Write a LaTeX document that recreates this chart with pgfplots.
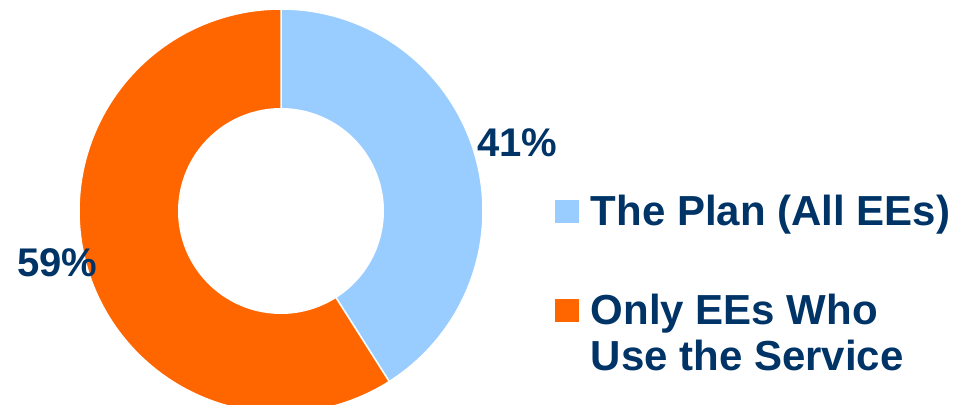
\documentclass[border=0pt]{standalone}
\usepackage{pgfplots}
\pgfplotsset{compat=1.18}
\usepackage{fontspec}
\setmainfont{Liberation Sans}
\definecolor{planblue}{HTML}{99CCFF}
\definecolor{useorange}{HTML}{FF6600}
\definecolor{navy}{HTML}{003366}
% data (percent)
\def\vPlan{41}
\def\vUse{59}
\def\cx{281}
\def\cy{193}
\def\Ro{202}
\def\Ri{103}
\pgfmathsetmacro\aStart{90}
\pgfmathsetmacro\aMid{90-3.6*\vPlan}
\pgfmathsetmacro\aEnd{90-3.6*(\vPlan+\vUse)}
\begin{document}
\begin{tikzpicture}
\begin{axis}[
  scale only axis, width=957pt, height=404pt,
  xmin=0, xmax=957, ymin=0, ymax=404,
  hide axis, clip=true,
  legend style={at={(axis cs:555,211)}, anchor=north west, draw=none, fill=none,
    inner sep=0pt, font=\fontsize{42}{46}\selectfont\bfseries\color{navy},
    cells={align=left, anchor=base west, inner sep=0pt}, row sep=63pt, column sep=10pt},
]
\path (axis cs:0,0) rectangle (axis cs:957,404);
\addplot[fill=planblue, draw=white, line width=1.5pt, domain=\aStart:\aMid, samples=120, variable=\t,
  legend image code/.code={\fill[planblue] (0pt,3pt) rectangle (22pt,25pt);}]
  ({\cx+\Ro*cos(t)},{\cy+\Ro*sin(t)}) -- (axis cs:\cx,\cy) -- cycle;
\addlegendentry{The Plan (All EEs)}
\addplot[fill=useorange, draw=white, line width=1.5pt, domain=\aMid:\aEnd, samples=160, variable=\t,
  legend image code/.code={\fill[useorange] (0pt,49pt) rectangle (22pt,71pt);}]
  ({\cx+\Ro*cos(t)},{\cy+\Ro*sin(t)}) -- (axis cs:\cx,\cy) -- cycle;
\addlegendentry{Only EEs Who\\Use the Service}
\addplot[fill=white, draw=none, domain=0:360, samples=160, variable=\t, forget plot]
  ({\cx+\Ri*cos(t)},{\cy+\Ri*sin(t)}) -- cycle;
\node[anchor=base west, inner sep=0pt, text=navy, font=\fontsize{40}{44}\selectfont\bfseries] at (axis cs:477,247) {41\%};
\node[anchor=base west, inner sep=0pt, text=navy, font=\fontsize{40}{44}\selectfont\bfseries] at (axis cs:17,127) {59\%};
\end{axis}
\end{tikzpicture}
\end{document}
